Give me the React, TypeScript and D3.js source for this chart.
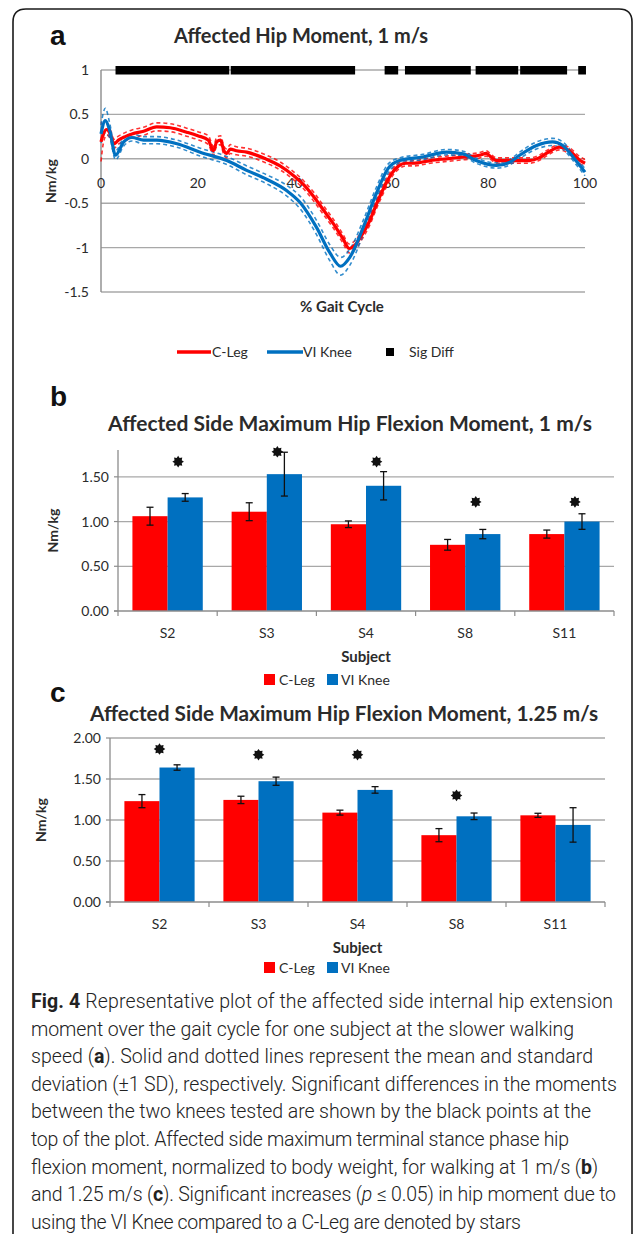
import React from 'react';
import * as d3 from 'd3';

// ---------- Panel a data (gait %, moment Nm/kg) ----------
const cLegGait = [0, 0.5, 1.2, 1.9, 2.7, 3.6, 5, 6.4, 8.8, 11.5, 14.3, 17.7, 20, 22.2, 23.2, 23.9, 24.7, 25.4, 26, 26.7, 28, 30.1, 34, 37, 40, 42, 44, 46, 48, 50, 51.3, 52.5, 54, 55.5, 57, 58.5, 60, 61.5, 63, 64.5, 68, 71.4, 75, 78.2, 79.6, 80.6, 81.7, 84, 85.8, 88.5, 90.5, 92, 94.7, 96.8, 98.8, 100];
const cLegMean = [0.19, 0.28, 0.33, 0.28, 0.17, 0.21, 0.25, 0.28, 0.31, 0.36, 0.35, 0.3, 0.26, 0.21, 0.09, 0.19, 0.21, 0.09, 0.06, 0.11, 0.09, 0.075, 0.0, -0.08, -0.2, -0.3, -0.43, -0.58, -0.73, -0.9, -1.01, -0.97, -0.85, -0.7, -0.5, -0.32, -0.17, -0.08, -0.05, -0.05, -0.02, 0.0, 0.02, 0.04, 0.06, 0.02, -0.02, -0.02, -0.02, -0.02, 0.01, 0.06, 0.13, 0.09, -0.01, -0.05];
const cLegSD = [0.22, 0.1, 0.06, 0.05, 0.05, 0.045, 0.045, 0.045, 0.045, 0.045, 0.045, 0.045, 0.045, 0.05, 0.05, 0.05, 0.05, 0.05, 0.05, 0.05, 0.045, 0.045, 0.045, 0.045, 0.045, 0.045, 0.05, 0.05, 0.05, 0.05, 0.05, 0.05, 0.05, 0.05, 0.05, 0.05, 0.04, 0.035, 0.03, 0.03, 0.03, 0.03, 0.03, 0.03, 0.03, 0.03, 0.03, 0.03, 0.03, 0.03, 0.03, 0.03, 0.03, 0.035, 0.04, 0.04];

const viGait = [0, 0.9, 1.8, 3, 4.7, 6.4, 8.8, 11.5, 15.7, 20.5, 26, 30.1, 34.2, 38.4, 41.1, 44.5, 47.3, 49.5, 51.4, 54.2, 56.9, 59.3, 61.7, 66.5, 71.4, 74.8, 77.5, 81.7, 84.4, 86.5, 90, 93.3, 95.4, 98.1, 100];
const viMean = [0.28, 0.43, 0.32, 0.04, 0.19, 0.24, 0.21, 0.21, 0.17, 0.075, -0.02, -0.13, -0.23, -0.36, -0.49, -0.77, -1.06, -1.21, -1.11, -0.77, -0.39, -0.11, -0.02, 0.02, 0.075, 0.056, -0.02, -0.075, -0.04, 0.04, 0.15, 0.19, 0.15, -0.02, -0.15];
const viSD = [0.1, 0.14, 0.08, 0.05, 0.045, 0.04, 0.04, 0.04, 0.04, 0.045, 0.045, 0.05, 0.05, 0.06, 0.07, 0.08, 0.09, 0.1, 0.09, 0.08, 0.07, 0.05, 0.03, 0.03, 0.03, 0.03, 0.03, 0.03, 0.03, 0.035, 0.04, 0.04, 0.04, 0.04, 0.04];

const sigRanges: [number, number][] = [[3, 26.5], [26.8, 52.5], [58.6, 61.4], [62.8, 76.4], [77.4, 86.2], [86.6, 96.3], [98.6, 100.2]];
const aYTicks = [1, 0.5, 0, -0.5, -1, -1.5];
const aXTicks = [0, 20, 40, 60, 80, 100];

// ---------- Panels b and c ----------
const subjects = ['S2', 'S3', 'S4', 'S8', 'S11'];
const seriesNames = ['C-Leg', 'VI Knee'];

const bCLeg = [1.06, 1.11, 0.97, 0.74, 0.86];
const bCLegErr = [0.1, 0.1, 0.037, 0.06, 0.045];
const bVI = [1.27, 1.53, 1.4, 0.86, 1.0];
const bVIErr = [0.043, 0.245, 0.158, 0.052, 0.087];
const bStars = [1.67, 1.78, 1.67, 1.22, 1.22];
const bYTicks = [0, 0.5, 1.0, 1.5];

const cCLeg = [1.23, 1.245, 1.09, 0.815, 1.057];
const cCLegErr = [0.08, 0.045, 0.03, 0.08, 0.025];
const cVI = [1.64, 1.473, 1.367, 1.045, 0.94];
const cVIErr = [0.033, 0.05, 0.04, 0.04, 0.21];
const cStars = [1.865, 1.796, 1.796, 1.3, null];
const cYTicks = [0, 0.5, 1.0, 1.5, 2.0];

const RED = '#ff0000';
const BLUE = '#0070c0';
const GRID = '#a8a8a8';
const AXIS = '#8c8c8c';
const TXT = '#2b2b2b';
const FONT = 'Lato, "Open Sans", sans-serif';

function starPath(cx: number, cy: number, ro: number, ri: number) {
  const pts: [number, number][] = [];
  for (let i = 0; i < 16; i++) {
    const r = i % 2 === 0 ? ro : ri;
    const a = (Math.PI * i) / 8 - Math.PI / 2;
    pts.push([cx + r * Math.cos(a), cy + r * Math.sin(a)]);
  }
  return 'M' + pts.map((p) => p.join(',')).join('L') + 'Z';
}

function PanelA() {
  const x = d3.scaleLinear().domain([0, 100]).range([101, 585]);
  const y = d3.scaleLinear().domain([-1.5, 1]).range([292, 70]);
  const line = (xs: number[], ys: number[]) =>
    d3
      .line<number>()
      .x((_, i) => x(xs[i]))
      .y((d) => y(d))
      .curve(d3.curveMonotoneX)(ys) || '';
  const up = (m: number[], s: number[]) => m.map((v, i) => v + s[i]);
  const lo = (m: number[], s: number[]) => m.map((v, i) => v - s[i]);
  return (
    <g>
      <text x={50} y={45} fontFamily="Liberation Sans, Arial, sans-serif" fontWeight="bold" fontSize={28} fill="#111">a</text>
      <text x={301} y={43} textAnchor="middle" fontFamily={FONT} fontWeight="bold" fontSize={20} fill={TXT}>Affected Hip Moment, 1 m/s</text>
      {aYTicks.map((t) => (
        <line key={'g' + t} x1={x(0)} x2={x(100)} y1={y(t)} y2={y(t)} stroke={GRID} strokeWidth={1.4} />
      ))}
      <line x1={x(0)} x2={x(0)} y1={y(1)} y2={y(-1.5)} stroke={AXIS} strokeWidth={1.4} />
      {aYTicks.map((t) => (
        <text key={'yl' + t} x={89} y={y(t) + 5} textAnchor="end" fontFamily={FONT} fontSize={14} fill={TXT}>{String(t)}</text>
      ))}
      {aXTicks.map((t) => (
        <text key={'xl' + t} x={x(t)} y={y(0) + 29} textAnchor="middle" fontFamily={FONT} fontSize={14} fill={TXT}>{String(t)}</text>
      ))}
      {sigRanges.map(([a, b], i) => (
        <rect key={'s' + i} x={x(a)} y={y(1) - 4} width={x(b) - x(a)} height={8.5} fill="#000" />
      ))}
      <path d={line(cLegGait, up(cLegMean, cLegSD))} fill="none" stroke={RED} strokeWidth={1.6} strokeDasharray="4,3" opacity={0.8} />
      <path d={line(cLegGait, lo(cLegMean, cLegSD))} fill="none" stroke={RED} strokeWidth={1.6} strokeDasharray="4,3" opacity={0.8} />
      <path d={line(viGait, up(viMean, viSD))} fill="none" stroke={BLUE} strokeWidth={1.6} strokeDasharray="4,3" opacity={0.8} />
      <path d={line(viGait, lo(viMean, viSD))} fill="none" stroke={BLUE} strokeWidth={1.6} strokeDasharray="4,3" opacity={0.8} />
      <path d={line(cLegGait, cLegMean)} fill="none" stroke={RED} strokeWidth={3.2} />
      <path d={line(viGait, viMean)} fill="none" stroke={BLUE} strokeWidth={3.2} />
      <text x={x(0) + (x(100) - x(0)) / 2 - 1} y={312} textAnchor="middle" fontFamily={FONT} fontWeight="bold" fontSize={15} fill={TXT}>% Gait Cycle</text>
      <text transform={`translate(56,${y(-0.25)}) rotate(-90)`} textAnchor="middle" fontFamily={FONT} fontWeight="bold" fontSize={14} fill={TXT}>Nm/kg</text>
      {/* legend */}
      <line x1={177} x2={211} y1={352} y2={352} stroke={RED} strokeWidth={3.5} />
      <text x={212} y={357} fontFamily={FONT} fontSize={14} fill={TXT}>C-Leg</text>
      <line x1={267} x2={303} y1={352} y2={352} stroke={BLUE} strokeWidth={3.5} />
      <text x={303} y={357} fontFamily={FONT} fontSize={14} fill={TXT}>VI Knee</text>
      <rect x={386} y={348} width={8} height={8} fill="#000" />
      <text x={409} y={357} fontFamily={FONT} fontSize={14} fill={TXT}>Sig Diff</text>
    </g>
  );
}

type BarProps = {
  letter: string;
  letterY: number;
  title: string;
  titleX: number;
  titleY: number;
  titleSize: number;
  left: number;
  right: number;
  top: number;
  bottom: number;
  yMax: number;
  ticks: number[];
  cleg: number[];
  clegErr: number[];
  vi: number[];
  viErr: number[];
  stars: (number | null)[];
  starShift: number;
  ylabelX: number;
  legendY: number;
};

function BarPanel(p: BarProps) {
  const x0 = d3.scaleBand<string>().domain(subjects).range([p.left, p.right]).paddingInner(0).paddingOuter(0);
  const x1 = d3.scaleBand<string>().domain(seriesNames).range([0, x0.bandwidth()]).paddingInner(0).paddingOuter(0.41);
  const y = d3.scaleLinear().domain([0, p.yMax]).range([p.bottom, p.top]);
  const bw = x1.bandwidth();
  const series = [
    { name: 'C-Leg', vals: p.cleg, errs: p.clegErr, color: RED },
    { name: 'VI Knee', vals: p.vi, errs: p.viErr, color: BLUE },
  ];
  const midX = (p.left + p.right) / 2;
  return (
    <g>
      <text x={50} y={p.letterY} fontFamily="Liberation Sans, Arial, sans-serif" fontWeight="bold" fontSize={28} fill="#111">{p.letter}</text>
      <text x={p.titleX} y={p.titleY} textAnchor="middle" fontFamily={FONT} fontWeight="bold" fontSize={p.titleSize} fill={TXT}>{p.title}</text>
      {p.ticks.filter((t) => t > 0).map((t) => (
        <line key={'g' + t} x1={p.left} x2={p.right} y1={y(t)} y2={y(t)} stroke={GRID} strokeWidth={1.3} />
      ))}
      {p.ticks.map((t) => (
        <g key={'yt' + t}>
          <line x1={p.left - 4} x2={p.left} y1={y(t)} y2={y(t)} stroke={AXIS} strokeWidth={1.2} />
          <text x={p.left - 9} y={y(t) + 5} textAnchor="end" fontFamily={FONT} fontSize={14} fill={TXT}>{t.toFixed(2)}</text>
        </g>
      ))}
      {series.map((s) =>
        subjects.map((sub, i) => (
          <rect key={s.name + sub} x={(x0(sub) || 0) + (x1(s.name) || 0)} y={y(s.vals[i])} width={bw} height={y(0) - y(s.vals[i])} fill={s.color} />
        ))
      )}
      {series.map((s) =>
        subjects.map((sub, i) => {
          const cx = (x0(sub) || 0) + (x1(s.name) || 0) + bw / 2;
          const hi = y(s.vals[i] + s.errs[i]);
          const lo = y(s.vals[i] - s.errs[i]);
          return (
            <g key={'e' + s.name + sub} stroke="#111" strokeWidth={1.3}>
              <line x1={cx} x2={cx} y1={hi} y2={lo} />
              <line x1={cx - 3.5} x2={cx + 3.5} y1={hi} y2={hi} />
              <line x1={cx - 3.5} x2={cx + 3.5} y1={lo} y2={lo} />
            </g>
          );
        })
      )}
      {p.stars.map((v, i) =>
        v == null ? null : (
          <path key={'st' + i} d={starPath((x0(subjects[i]) || 0) + x0.bandwidth() / 2 + p.starShift * bw, y(v), 5.8, 3.9)} fill="#111" />
        )
      )}
      <line x1={p.left} x2={p.left} y1={p.top} y2={p.bottom} stroke={AXIS} strokeWidth={1.3} />
      <line x1={p.left - 4} x2={p.right} y1={p.bottom} y2={p.bottom} stroke={AXIS} strokeWidth={1.3} />
      {d3.range(subjects.length + 1).map((i) => {
        const tx = p.left + i * x0.bandwidth();
        return <line key={'xt' + i} x1={tx} x2={tx} y1={p.bottom} y2={p.bottom + 5} stroke={AXIS} strokeWidth={1.2} />;
      })}
      {subjects.map((sub) => (
        <text key={'xl' + sub} x={(x0(sub) || 0) + x0.bandwidth() / 2} y={p.bottom + 27} textAnchor="middle" fontFamily={FONT} fontSize={14} fill={TXT}>{sub}</text>
      ))}
      <text x={midX} y={p.bottom + 51} textAnchor="middle" fontFamily={FONT} fontWeight="bold" fontSize={15} fill={TXT}>Subject</text>
      <text transform={`translate(${p.ylabelX},${(p.top + p.bottom) / 2}) rotate(-90)`} textAnchor="middle" fontFamily={FONT} fontWeight="bold" fontSize={14} fill={TXT}>Nm/kg</text>
      <rect x={264} y={p.legendY - 6} width={11} height={11} fill={RED} />
      <text x={279} y={p.legendY + 5} fontFamily={FONT} fontSize={14} fill={TXT}>C-Leg</text>
      <rect x={327} y={p.legendY - 6} width={11} height={11} fill={BLUE} />
      <text x={341} y={p.legendY + 5} fontFamily={FONT} fontSize={14} fill={TXT}>VI Knee</text>
    </g>
  );
}

const captionLines: { parts: { t: string; b?: boolean; i?: boolean }[]; end: number }[] = [
  { parts: [{ t: 'Fig. 4', b: true }, { t: ' Representative plot of the affected side internal hip extension' }], end: 613 },
  { parts: [{ t: 'moment over the gait cycle for one subject at the slower walking' }], end: 574 },
  { parts: [{ t: 'speed (' }, { t: 'a', b: true }, { t: '). Solid and dotted lines represent the mean and standard' }], end: 593 },
  { parts: [{ t: 'deviation (±1 SD), respectively. Significant differences in the moments' }], end: 617 },
  { parts: [{ t: 'between the two knees tested are shown by the black points at the' }], end: 591 },
  { parts: [{ t: 'top of the plot. Affected side maximum terminal stance phase hip' }], end: 569 },
  { parts: [{ t: 'flexion moment, normalized to body weight, for walking at 1 m/s (' }, { t: 'b', b: true }, { t: ')' }], end: 598 },
  { parts: [{ t: 'and 1.25 m/s (' }, { t: 'c', b: true }, { t: '). Significant increases (' }, { t: 'p', i: true }, { t: ' ≤ 0.05) in hip moment due to' }], end: 616 },
  { parts: [{ t: 'using the VI Knee compared to a C-Leg are denoted by stars' }], end: 521 },
];

export default function App() {
  const capX = 31;
  return (
    <div style={{ position: 'absolute', left: 0, top: 0 }}>
      <svg width={634} height={1234} viewBox="0 0 634 1234" style={{ display: 'block', background: '#fff' }}>
        <rect x={0} y={0} width={634} height={1234} fill="#fff" />
        <path d="M13,1240 V22 Q13,9 26,9 H619 Q632,9 632,22 V1240" fill="none" stroke="#1a1a1a" strokeWidth={1.6} />
        <PanelA />
        <BarPanel
          letter="b" letterY={406} title="Affected Side Maximum Hip Flexion Moment, 1 m/s" titleX={350} titleY={431} titleSize={21}
          left={118} right={614} top={450} bottom={611} yMax={1.8} ticks={bYTicks}
          cleg={bCLeg} clegErr={bCLegErr} vi={bVI} viErr={bVIErr} stars={bStars} starShift={0.3}
          ylabelX={58} legendY={680}
        />
        <BarPanel
          letter="c" letterY={702} title="Affected Side Maximum Hip Flexion Moment, 1.25 m/s" titleX={344} titleY={721} titleSize={20.8}
          left={110} right={605} top={738} bottom={902} yMax={2.0} ticks={cYTicks}
          cleg={cCLeg} clegErr={cCLegErr} vi={cVI} viErr={cVIErr} stars={cStars} starShift={0}
          ylabelX={46} legendY={968}
        />
        {captionLines.map((ln, i) => (
          <text key={'cap' + i} x={capX} y={1008 + i * 27.6} fontFamily='Roboto, "Open Sans", sans-serif' fontWeight={300} fontSize={19.5} fill="#222" textLength={ln.end - capX} lengthAdjust="spacing">
            {ln.parts.map((pt, j) => (
              <tspan key={j} fontWeight={pt.b ? 'bold' : 300} fontStyle={pt.i ? 'italic' : 'normal'}>{pt.t}</tspan>
            ))}
          </text>
        ))}
      </svg>
    </div>
  );
}
